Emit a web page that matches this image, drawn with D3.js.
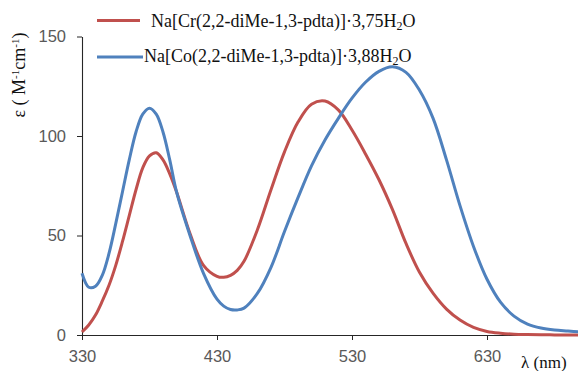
<!DOCTYPE html>
<html>
<head>
<meta charset="utf-8">
<script src="https://cdn.jsdelivr.net/npm/d3@7"></script>
<style>
  html, body { margin: 0; padding: 0; background: #fff; }
  svg { display: block; }
</style>
</head>
<body>
<svg id="chart" width="578" height="371"></svg>
<script>
// Wavelength grid (nm) shared by both absorption spectra
const wavelengths = [330, 335, 340, 345, 350, 355, 360, 365, 370, 375, 380, 385, 390, 395, 400,
  410, 420, 430, 435, 440, 445, 450, 460, 470, 480, 490, 500, 510, 520, 530, 540,
  550, 560, 570, 580, 590, 600, 610, 620, 630, 640, 650, 660, 670, 680, 690, 700];

// Molar absorptivity, Na[Cr(2,2-diMe-1,3-pdta)]·3,75H2O
const crValues = [1.5, 5, 10, 17, 25, 35, 47, 60, 73, 84, 90, 91.6, 88, 81, 72,
  51, 35, 29.5, 29, 30, 32.5, 37, 53, 73, 92, 107, 116, 117.6, 113, 103, 91,
  78, 63, 46, 31.5, 21, 13, 7.5, 3.8, 1.8, 0.9, 0.4, 0.2, 0.1, 0.05, 0, 0];

// Molar absorptivity, Na[Co(2,2-diMe-1,3-pdta)]·3,88H2O
const coValues = [31, 24, 24.5, 30, 41, 56, 72, 88, 102, 111, 114, 111, 102, 88, 72,
  50, 31, 18, 14.5, 12.8, 12.6, 13.5, 21, 34, 52, 69, 85, 98, 109, 119, 127,
  132.5, 134.8, 132, 123, 109, 88, 65, 44.5, 28, 16.5, 9.5, 5.5, 3.5, 2.5, 2, 1.5];

const xTicks = [330, 430, 530, 630];
const yTicks = [0, 50, 100, 150];

const seriesColors = ["#C0504D", "#4F81BD"];

const svg = d3.select("#chart");

const x = d3.scaleLinear().domain([330, 700]).range([82, 581.5]);
const y = d3.scaleLinear().domain([0, 150]).range([335, 36.5]);

// Axes
const xAxis = d3.axisBottom(x).tickValues(xTicks).tickSize(5).tickSizeOuter(0).tickPadding(10);
const yAxis = d3.axisLeft(y).tickValues(yTicks).tickSize(5).tickSizeOuter(0).tickPadding(11);

const gx = svg.append("g").attr("transform", "translate(0,335)").call(xAxis);
const gy = svg.append("g").attr("transform", "translate(82,0)").call(yAxis);

[gx, gy].forEach(g => {
  g.select(".domain").attr("stroke", "#262626").attr("stroke-width", 1.1);
  g.selectAll(".tick line").attr("stroke", "#262626").attr("stroke-width", 1);
  g.selectAll(".tick text")
    .attr("fill", "#595959")
    .style("font-family", "'Liberation Sans', Arial, sans-serif")
    .style("font-size", "16.5px");
});

// Spectra
const line = d3.line()
  .x((d, i) => x(wavelengths[i]))
  .y(d => y(Math.max(0, d)))
  .curve(d3.curveCatmullRom.alpha(0.5));

const allSeries = [crValues, coValues];
allSeries.forEach((vals, i) => {
  svg.append("path")
    .datum(vals)
    .attr("fill", "none")
    .attr("stroke", seriesColors[i])
    .attr("stroke-width", 3)
    .attr("stroke-linejoin", "round")
    .attr("d", line);
});

// Axis titles
const serif = "'Liberation Serif', 'Times New Roman', serif";

svg.append("text")
  .attr("x", 521)
  .attr("y", 368)
  .style("font-family", serif)
  .style("font-size", "17px")
  .attr("fill", "#111")
  .text("λ (nm)");

const yTitle = svg.append("text")
  .attr("transform", "translate(25,75) rotate(-90)")
  .attr("text-anchor", "middle")
  .style("font-family", serif)
  .style("font-size", "18px")
  .attr("fill", "#111");
yTitle.append("tspan").text("ε ( M");
yTitle.append("tspan").attr("dy", -6).style("font-size", "11px").text("-1");
yTitle.append("tspan").attr("dy", 6).text("cm");
yTitle.append("tspan").attr("dy", -6).style("font-size", "11px").text("-1");
yTitle.append("tspan").attr("dy", 6).text(")");

// Legend
const legendLabels = [
  ["Na[Cr(2,2-diMe-1,3-pdta)]·3,75H", "2", "O"],
  ["Na[Co(2,2-diMe-1,3-pdta)]·3,88H", "2", "O"]
];
const legendLineX = [[97, 140], [97, 143]];
const legendLineY = [20.5, 57];
const legendTextX = [151, 144];
const legendTextY = [27, 62];

legendLabels.forEach((parts, i) => {
  svg.append("line")
    .attr("x1", legendLineX[i][0]).attr("x2", legendLineX[i][1])
    .attr("y1", legendLineY[i]).attr("y2", legendLineY[i])
    .attr("stroke", seriesColors[i])
    .attr("stroke-width", 3);
  const t = svg.append("text")
    .attr("x", legendTextX[i])
    .attr("y", legendTextY[i])
    .style("font-family", serif)
    .style("font-size", "18px")
    .attr("fill", "#111");
  t.append("tspan").text(parts[0]);
  t.append("tspan").attr("dy", 3).style("font-size", "12px").text(parts[1]);
  t.append("tspan").attr("dy", -3).text(parts[2]);
});
</script>
</body>
</html>
